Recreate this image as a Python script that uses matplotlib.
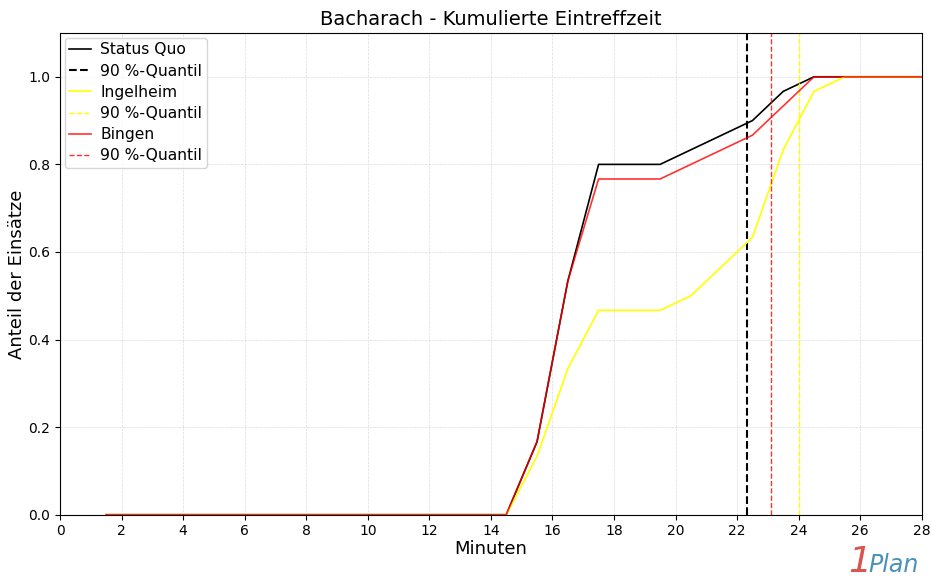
import numpy as np
import matplotlib
matplotlib.use("Agg")
import matplotlib.pyplot as plt

# Minuten (Klassenmitten)
minuten = [1.5, 2.5, 3.5, 4.5, 5.5, 6.5, 7.5, 8.5, 9.5, 10.5, 11.5, 12.5, 13.5, 14.5,
           15.5, 16.5, 17.5, 18.5, 19.5, 20.5, 21.5, 22.5, 23.5, 24.5, 25.5, 26.5, 27.5, 28.5]

status_quo = [0, 0, 0, 0, 0, 0, 0, 0, 0, 0, 0, 0, 0, 0,
              5/30, 16/30, 24/30, 24/30, 24/30, 25/30, 26/30, 27/30, 29/30, 1, 1, 1, 1, 1]
ingelheim = [0, 0, 0, 0, 0, 0, 0, 0, 0, 0, 0, 0, 0, 0,
             4/30, 10/30, 14/30, 14/30, 14/30, 15/30, 17/30, 19/30, 25/30, 29/30, 1, 1, 1, 1]
bingen = [0, 0, 0, 0, 0, 0, 0, 0, 0, 0, 0, 0, 0, 0,
          5/30, 16/30, 23/30, 23/30, 23/30, 24/30, 25/30, 26/30, 28/30, 1, 1, 1, 1, 1]

q_status_quo = 22.33
q_ingelheim = 24.01
q_bingen = 23.09

fig, ax = plt.subplots(figsize=(9.31, 5.79), dpi=100)
fig.subplots_adjust(left=0.0645, right=0.990, top=0.943, bottom=0.111)

ax.plot(minuten, status_quo, color='black', lw=1.2, label='Status Quo')
ax.axvline(q_status_quo, color='black', ls='--', lw=1.5, label='90 %-Quantil')
ax.plot(minuten, ingelheim, color='yellow', lw=1.2, label='Ingelheim')
ax.axvline(q_ingelheim, color='yellow', ls='--', lw=1.0, label='90 %-Quantil')
ax.plot(minuten, bingen, color='red', alpha=0.8, lw=1.2, label='Bingen')
ax.axvline(q_bingen, color='red', alpha=0.8, ls='--', lw=1.0, label='90 %-Quantil')

ax.set_xlim(0, 28)
ax.set_ylim(0, 1.1)
ax.set_xticks(np.arange(0, 29, 2))
ax.set_yticks(np.arange(0, 1.01, 0.2))
ax.grid(True, color='lightgrey', ls='--', lw=0.5, alpha=0.8)
ax.tick_params(labelsize=10)

ax.set_title('Bacharach - Kumulierte Eintreffzeit', fontsize=14)
ax.set_xlabel('Minuten', fontsize=13, labelpad=1)
ax.set_ylabel('Anteil der Einsätze', fontsize=13, labelpad=2)
ax.legend(loc='upper left', fontsize=11.2, borderaxespad=0.3, handlelength=1.4,
          labelspacing=0.4, borderpad=0.3, handletextpad=0.6)

fig.text(0.911, 0.0, '1', color='#d9534f', fontsize=26, style='italic', ha='left', va='bottom')
fig.text(0.933, 0.004, 'Plan', color='#4a90b8', fontsize=17, style='italic', ha='left', va='bottom')

plt.savefig('out.png')
